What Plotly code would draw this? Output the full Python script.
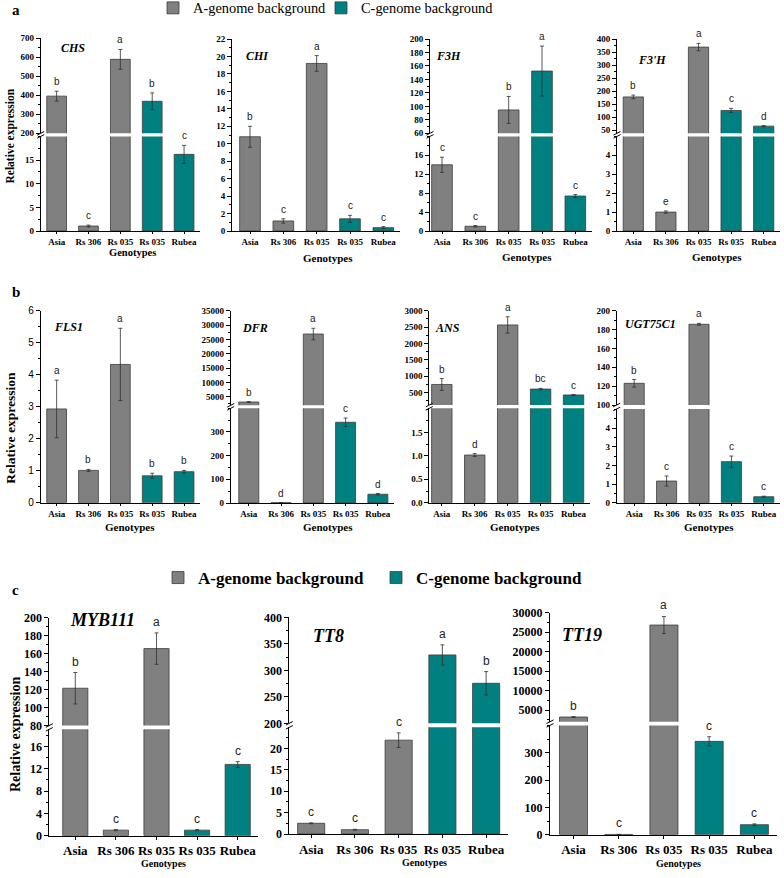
import plotly.graph_objects as go

W, H = 784, 878

# ---------------- data ----------------
genotypes = ["Asia", "Rs 306", "Rs 035", "Rs 035", "Rubea"]
background = ["A", "A", "A", "C", "C"]

chs_mean = [395, 1.05, 588, 368, 16.2]
chs_err = [26, 0.2, 52, 44, 1.9]
chs_sig = ["b", "c", "a", "b", "c"]

chi_mean = [10.8, 1.15, 19.2, 1.4, 0.38]
chi_err = [1.2, 0.25, 0.9, 0.4, 0.12]
chi_sig = ["b", "c", "a", "c", "c"]

f3h_mean = [14.0, 1.0, 94.7, 152.4, 7.4]
f3h_err = [1.6, 0.15, 20, 37, 0.3]
f3h_sig = ["c", "c", "b", "a", "c"]

f3ph_mean = [178, 1.0, 369, 126, 66]
f3ph_err = [7, 0.06, 14, 8, 2]
f3ph_sig = ["b", "e", "a", "c", "d"]

fls1_mean = [2.93, 1.01, 4.32, 0.84, 0.97]
fls1_err = [0.9, 0.03, 1.13, 0.08, 0.04]
fls1_sig = ["a", "b", "a", "b", "b"]

dfr_mean = [3150, 1.0, 26870, 341, 37]
dfr_err = [150, 0.1, 2000, 18, 3]
dfr_sig = ["b", "d", "a", "c", "d"]

ans_mean = [751, 1.02, 2566, 611, 431]
ans_err = [180, 0.03, 250, 20, 10]
ans_sig = ["b", "d", "a", "bc", "c"]

ugt_mean = [123, 1.16, 185.6, 2.2, 0.32]
ugt_err = [4, 0.27, 1, 0.3, 0.03]
ugt_sig = ["b", "c", "a", "c", "c"]

myb_mean = [121.5, 1.0, 165.6, 1.0, 12.8]
myb_err = [17.5, 0.1, 17.5, 0.1, 0.5]
myb_sig = ["b", "c", "a", "c", "c"]

tt8_mean = [2.5, 1.0, 21.9, 329, 275.5]
tt8_err = [0.1, 0.1, 1.7, 19, 22]
tt8_sig = ["c", "c", "c", "a", "b"]

tt19_mean = [3200, 1.0, 26830, 341.6, 36.6]
tt19_err = [100, 0.1, 2200, 17, 3]
tt19_sig = ["b", "c", "a", "c", "c"]

legend_names = {"A": "A-genome background", "C": "C-genome background"}

# ---------------- style / layout ----------------
SERIF = "Liberation Serif, Times New Roman, serif"
SANS = "Liberation Sans, Arial, sans-serif"
GREY = "#808080"
TEAL = "#008080"
EDGE = "#3c3c3c"
colors = {"A": GREY, "C": TEAL}


def xp(px):
    return px / W


def yp(py):
    return 1 - py / H


def seg(bottom, top, rng, ticks, minor, fmt="{:g}"):
    return dict(bottom=bottom, top=top, range=rng, ticks=ticks, minor=minor, fmt=fmt)


def frange(a, b, s):
    out = []
    v = a
    while v <= b + 1e-9:
        out.append(round(v, 6))
        v += s
    return out


style_ab = dict(tick=9, cat=9, gene=12, geno=11, letter=10, xtl=2)
style_c = dict(tick=12, cat=13, gene=18, geno=10, letter=12, xtl=3)

panels = [
    dict(gene="CHS", mean=chs_mean, err=chs_err, sig=chs_sig, x=(40.7, 200), x0=-0.5,
         segs=[seg(231, 136.4, [0, 20], frange(0, 15, 5), 2.5),
               seg(133.3, 38, [200, 700], frange(200, 700, 100), 50)],
         gpos=(73, 48), geno=(132, 252.5), st=dict(style_ab, geno=10.5), legend=("legend", "legend2")),
    dict(gene="CHI", mean=chi_mean, err=chi_err, sig=chi_sig, x=(232, 400), x0=-0.54,
         segs=[seg(231, 39, [0, 22], frange(0, 22, 2), 1)],
         gpos=(257, 56), geno=(328, 258), st=style_ab),
    dict(gene="F3H", mean=f3h_mean, err=f3h_err, sig=f3h_sig, x=(430, 592), x0=-0.36,
         segs=[seg(231, 136.4, [0, 20], frange(0, 16, 4), 2),
               seg(133.3, 39, [60, 200], frange(60, 200, 20), 10)],
         gpos=(448, 56), geno=(527, 257), st=style_ab),
    dict(gene="F3'H", mean=f3ph_mean, err=f3ph_err, sig=f3ph_sig, x=(617, 780), x0=-0.5,
         segs=[seg(231, 136.4, [0, 5], frange(0, 4, 1), 0.5),
               seg(133.3, 39, [38.5, 400], frange(50, 400, 50), 25)],
         gpos=(652, 60), geno=(717, 257), st=style_ab),
    dict(gene="FLS1", mean=fls1_mean, err=fls1_err, sig=fls1_sig, x=(40.7, 200), x0=-0.5,
         segs=[seg(502.7, 310.7, [0, 6], frange(0, 6, 1), 0.5)],
         gpos=(68, 327), geno=(130, 527), st=style_ab, sansticks=True),
    dict(gene="DFR", mean=dfr_mean, err=dfr_err, sig=dfr_sig, x=(230.7, 394), x0=-0.56,
         segs=[seg(503, 408.3, [0, 400], frange(0, 300, 100), 50),
               seg(405.3, 310.7, [2000, 35000], frange(5000, 35000, 5000), 2500)],
         gpos=(255, 328), geno=(328, 527), st=style_ab),
    dict(gene="ANS", mean=ans_mean, err=ans_err, sig=ans_sig, x=(429.3, 590), x0=-0.38,
         segs=[seg(502.7, 408.3, [0, 2.02], frange(0, 1.5, 0.5), 0.25, "{:.1f}"),
               seg(405, 310.7, [125, 3000], frange(500, 3000, 500), 250)],
         gpos=(447, 328), geno=(515, 527), st=style_ab),
    dict(gene="UGT75C1", mean=ugt_mean, err=ugt_err, sig=ugt_sig, x=(616.7, 780), x0=-0.54,
         segs=[seg(502.7, 409, [0, 5.02], frange(0, 4, 1), 0.5),
               seg(405, 310.7, [100, 200], frange(100, 200, 20), 10)],
         gpos=(650, 324), geno=(709, 527), st=style_ab),
    dict(gene="MYB111", mean=myb_mean, err=myb_err, sig=myb_sig, x=(49.3, 258), x0=-0.64,
         segs=[seg(835.7, 729.3, [0, 19.1], frange(0, 16, 4), 2),
               seg(725.5, 617.7, [80, 200], frange(80, 200, 20), 10)],
         gpos=(102, 620), geno=(163, 863), st=style_c, legend=("legend3", "legend4")),
    dict(gene="TT8", mean=tt8_mean, err=tt8_err, sig=tt8_sig, x=(289.3, 508), x0=-0.5,
         segs=[seg(834, 727.3, [0, 24.9], frange(0, 20, 5), 2.5),
               seg(723.3, 617.3, [200, 400], frange(200, 400, 50), 25)],
         gpos=(328, 636), geno=(424, 862), st=style_c),
    dict(gene="TT19", mean=tt19_mean, err=tt19_err, sig=tt19_sig, x=(550, 777), x0=-0.52,
         segs=[seg(834.7, 725.4, [0, 400], frange(0, 300, 100), 50),
               seg(721.7, 612.7, [2000, 30000], frange(5000, 30000, 5000), 2500)],
         gpos=(582, 635), geno=(678, 863), st=style_c),
]

fig = go.Figure()
layout = {}
annotations = []
shapes = []


def label(xx, yy, text, font, **kw):
    d = dict(x=xp(xx), y=yp(yy), xref="paper", yref="paper", text=text, showarrow=False,
             xanchor="center", yanchor="middle", font=font)
    d.update(kw)
    annotations.append(d)


nx = 0
ny = 0
for p in panels:
    st = p["st"]
    nx += 1
    xid = "x" if nx == 1 else f"x{nx}"
    xkey = "xaxis" if nx == 1 else f"xaxis{nx}"
    first_yid = None
    seg_ids = []
    for k, s in enumerate(p["segs"]):
        ny += 1
        yid = "y" if ny == 1 else f"y{ny}"
        ykey = "yaxis" if ny == 1 else f"yaxis{ny}"
        if first_yid is None:
            first_yid = yid
        seg_ids.append(yid)
        tfam = SANS if p.get("sansticks") else SERIF
        layout[ykey] = dict(
            domain=[yp(s["bottom"]), yp(s["top"])], range=s["range"], anchor=xid,
            tickmode="array", tickvals=s["ticks"], ticktext=[s["fmt"].format(v) for v in s["ticks"]],
            showline=True, linecolor="black", linewidth=1, ticks="outside", ticklen=4,
            tickcolor="black", tickwidth=1,
            minor=dict(dtick=s["minor"], tick0=0, ticks="outside", ticklen=2, tickcolor="black", showgrid=False),
            tickfont=dict(family=tfam, size=st["tick"] + (1 if p.get("sansticks") else 0), color="black",
                          weight="normal" if p.get("sansticks") else "bold"),
            showgrid=False, zeroline=False, fixedrange=True,
        )
        for gi, grp in enumerate(["A", "C"]):
            idx = [i for i, b in enumerate(background) if b == grp]
            show = (k == 0 and "legend" in p)
            fig.add_trace(go.Bar(
                x=idx, y=[p["mean"][i] for i in idx], width=0.62,
                marker=dict(color=colors[grp], line=dict(color=EDGE, width=0.8)),
                error_y=dict(type="data", array=[p["err"][i] for i in idx], color="#303030",
                             thickness=0.8, width=2),
                name=legend_names[grp], xaxis=xid, yaxis=yid,
                showlegend=show, legend=p["legend"][gi] if show else None,
                hoverinfo="skip",
            ))
    layout[xkey] = dict(
        domain=[xp(p["x"][0]), xp(p["x"][1])], range=[p["x0"], 4.5], anchor=first_yid,
        tickmode="array", tickvals=list(range(len(genotypes))), ticktext=genotypes, tickangle=0,
        showline=True, linecolor="black", linewidth=1, ticks="outside", ticklen=st["xtl"],
        tickcolor="black", tickfont=dict(family=SERIF, size=st["cat"], color="black", weight="bold"),
        showgrid=False, zeroline=False, fixedrange=True,
    )
    # significance letters
    for i in range(len(genotypes)):
        m = p["mean"][i]
        target = seg_ids[0]
        for s, yid in zip(p["segs"], seg_ids):
            if s["range"][0] <= m <= s["range"][1]:
                target = yid
        annotations.append(dict(
            x=i, y=m + p["err"][i], xref=xid, yref=target, text=p["sig"][i], showarrow=False,
            xanchor="center", yanchor="bottom", yshift=2,
            font=dict(family=SANS, size=st["letter"], color="#222")))
    label(p["gpos"][0], p["gpos"][1], f"<b><i>{p['gene']}</i></b>",
          dict(family=SERIF, size=st["gene"], color="black"))
    label(p["geno"][0], p["geno"][1], "<b>Genotypes</b>",
          dict(family=SERIF, size=st["geno"], color="black"))
    # axis break marks
    if len(p["segs"]) == 2:
        ax = p["x"][0]
        for ypx in (p["segs"][0]["top"], p["segs"][1]["bottom"]):
            shapes.append(dict(type="line", xref="paper", yref="paper",
                               x0=xp(ax - 3.5), y0=yp(ypx + 1.8), x1=xp(ax + 3.5), y1=yp(ypx - 1.8),
                               line=dict(color="black", width=1)))

# y titles
for (xx, yy, fs) in [(9.5, 136, 11.5), (10.7, 428, 13.5), (15, 735, 14)]:
    label(xx, yy, "<b>Relative expression</b>", dict(family=SERIF, size=fs, color="black"), textangle=-90)
# panel letters
for (lab, xx, yy) in [("a", 16, 10), ("b", 16, 292), ("c", 15, 590)]:
    label(xx, yy, f"<b>{lab}</b>", dict(family=SERIF, size=15, color="black"))

leg_common = dict(orientation="h", xanchor="left", yanchor="middle", bgcolor="rgba(0,0,0,0)",
                  borderwidth=0, itemclick=False, itemdoubleclick=False)
layout["legend"] = dict(x=xp(153), y=yp(8), font=dict(family=SERIF, size=14.4, color="black"), **leg_common)
layout["legend2"] = dict(x=xp(321), y=yp(8), font=dict(family=SERIF, size=14.4, color="black"), **leg_common)
layout["legend3"] = dict(x=xp(158), y=yp(578), font=dict(family=SERIF, size=17, color="black", weight="bold"), **leg_common)
layout["legend4"] = dict(x=xp(376), y=yp(578), font=dict(family=SERIF, size=17, color="black", weight="bold"), **leg_common)

fig.update_layout(
    width=W, height=H, margin=dict(l=0, r=0, t=0, b=0, autoexpand=False),
    paper_bgcolor="white", plot_bgcolor="white",
    barmode="overlay", showlegend=True,
    annotations=annotations, shapes=shapes, **layout,
)

# remove the browser's default page margin so the 784x878 figure fills the window exactly
fig.write_html("out.html", config={"displayModeBar": False},
               post_script="document.body.style.margin='0';document.body.style.overflow='hidden';")
